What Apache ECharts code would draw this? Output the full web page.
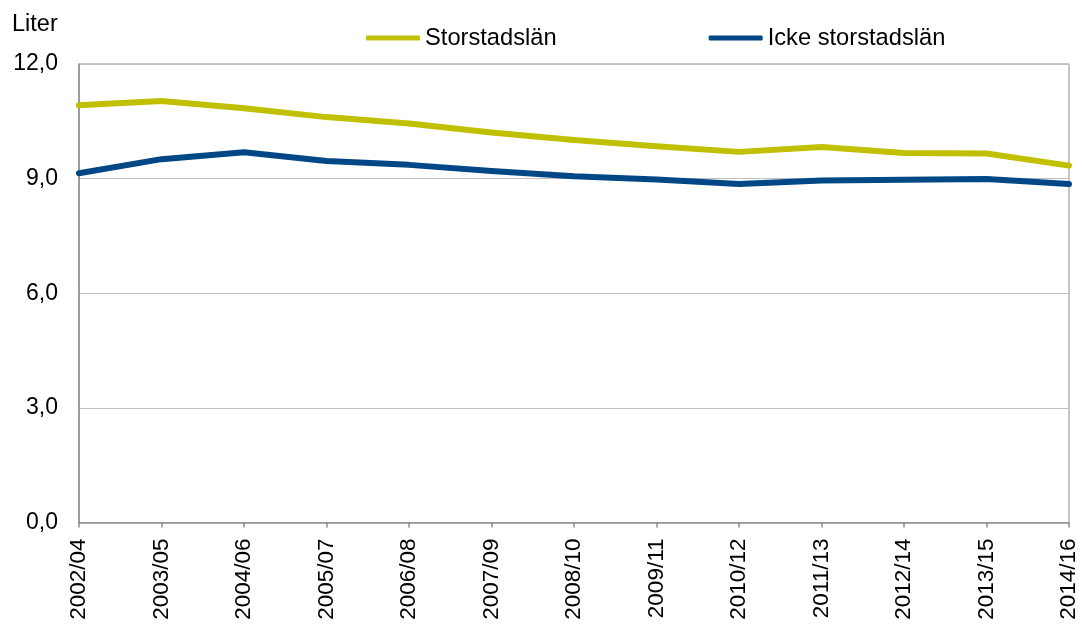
<!DOCTYPE html>
<html>
<head>
<meta charset="utf-8">
<script src="https://cdn.jsdelivr.net/npm/echarts@6/dist/echarts.min.js"></script>
<style>
  html, body { margin: 0; padding: 0; background: #fff; }
  #chart { width: 1083px; height: 625px; }
</style>
</head>
<body>
<div id="chart"></div>
<script>
// Läsår (school years)
const categories = ['2002/04', '2003/05', '2004/06', '2005/07', '2006/08', '2007/09',
  '2008/10', '2009/11', '2010/12', '2011/13', '2012/14', '2013/15', '2014/16'];

// Liter per person
const storstadslan = [10.92, 11.03, 10.84, 10.61, 10.44, 10.21, 10.01, 9.85, 9.70, 9.83, 9.67, 9.66, 9.34];
const ickeStorstadslan = [9.14, 9.51, 9.69, 9.46, 9.36, 9.20, 9.06, 8.98, 8.86, 8.95, 8.97, 8.99, 8.86];

const yTicks = { min: 0, max: 12, interval: 3 };

const font = 'Liberation Sans, Arial, sans-serif';
const chart = echarts.init(document.getElementById('chart'), null, { renderer: 'canvas' });

chart.setOption({
  animation: false,
  backgroundColor: '#ffffff',
  textStyle: { fontFamily: font },
  graphic: [{
    type: 'text', left: 12, top: 13,
    style: { text: 'Liter', font: '23.5px ' + font, fill: '#000' }
  }],
  legend: {
    left: 361, top: 21,
    itemWidth: 54, itemHeight: 5, itemGap: 152,
    icon: 'roundRect',
    textStyle: { fontSize: 23.7, color: '#000', fontFamily: font },
    data: ['Storstadslän', 'Icke storstadslän']
  },
  grid: {
    left: 79, right: 14, top: 64, bottom: 102.5,
    show: true, borderColor: '#8c8c8c', borderWidth: 1, backgroundColor: 'transparent'
  },
  xAxis: {
    type: 'category',
    data: categories,
    boundaryGap: false,
    axisLine: { lineStyle: { color: '#8c8c8c', width: 1.5 } },
    axisTick: { show: true, length: 5, lineStyle: { color: '#8c8c8c', width: 1.5 } },
    axisLabel: { rotate: 90, margin: 16, fontSize: 22.5, color: '#000', fontFamily: font, interval: 0 },
    splitLine: { show: false }
  },
  yAxis: {
    type: 'value',
    min: yTicks.min, max: yTicks.max, interval: yTicks.interval,
    axisLine: { show: true, lineStyle: { color: '#8c8c8c', width: 1.5 } },
    axisTick: { show: false },
    axisLabel: {
      margin: 21, fontSize: 23, color: '#000', fontFamily: font,
      formatter: v => v.toFixed(1).replace('.', ',')
    },
    splitLine: { lineStyle: { color: '#c0c0c0', width: 1 } }
  },
  series: [
    {
      name: 'Storstadslän', type: 'line', data: storstadslan,
      symbol: 'none', color: '#c0c000',
      lineStyle: { width: 6, color: '#c0c000', cap: 'round', join: 'round' }
    },
    {
      name: 'Icke storstadslän', type: 'line', data: ickeStorstadslan,
      symbol: 'none', color: '#004786',
      lineStyle: { width: 6, color: '#004786', cap: 'round', join: 'round' }
    }
  ]
});
</script>
</body>
</html>
